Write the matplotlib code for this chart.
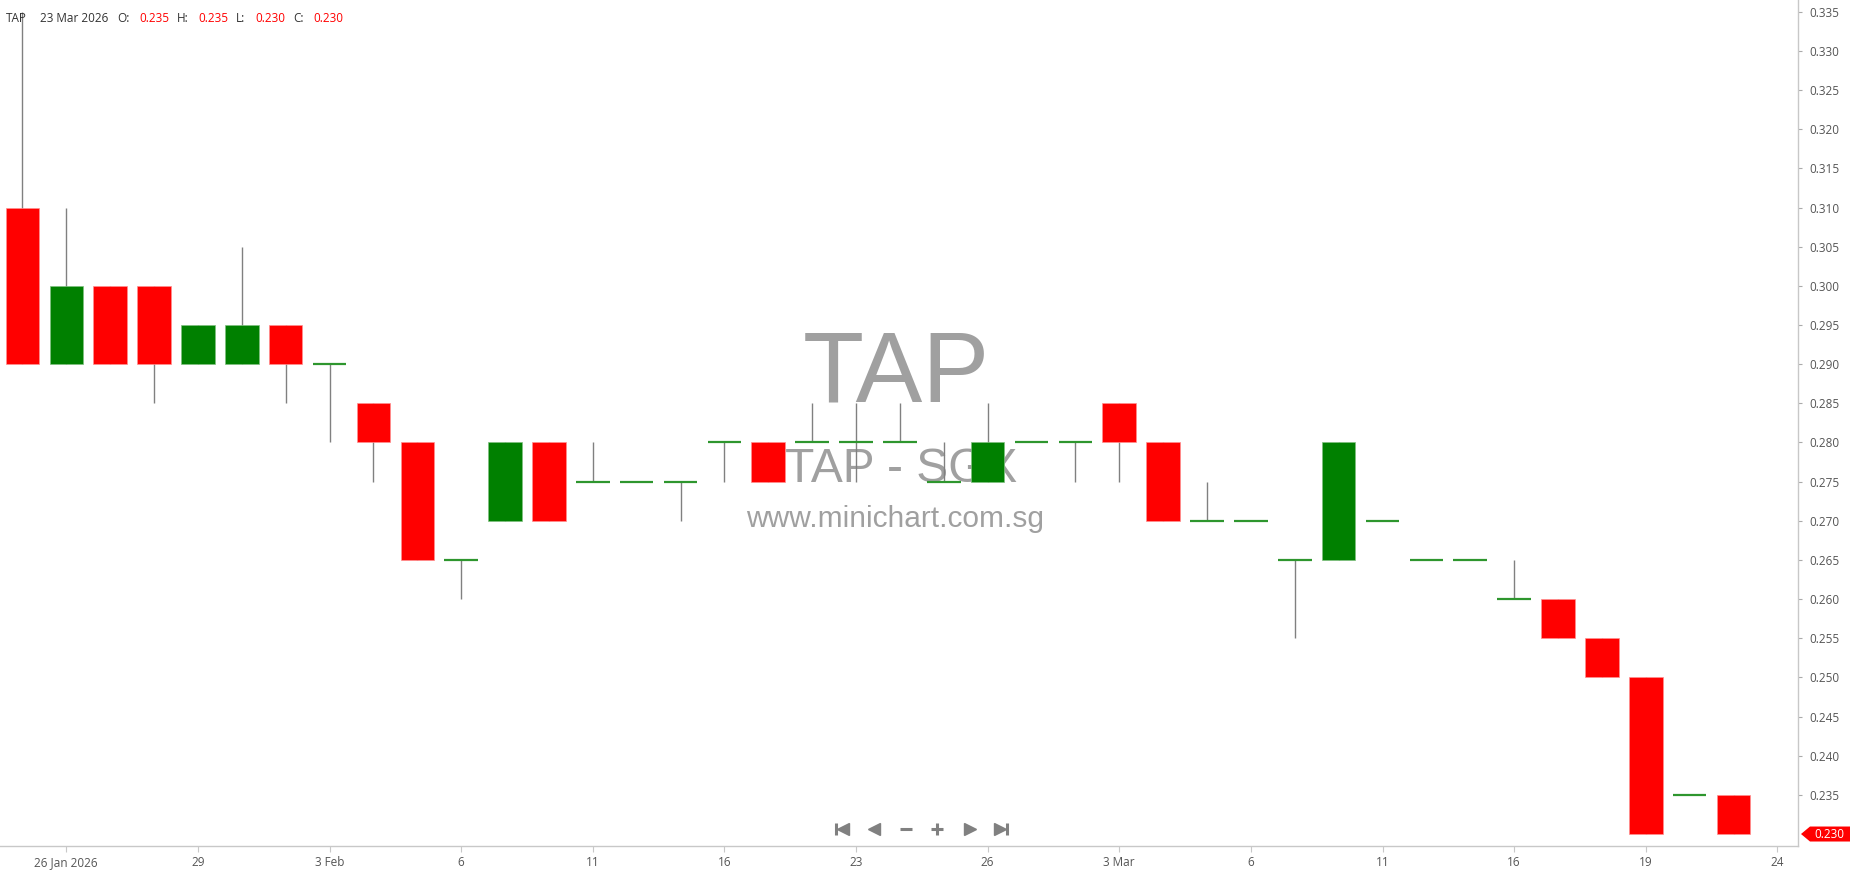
import matplotlib
matplotlib.use('Agg')
import matplotlib.pyplot as plt
import matplotlib.transforms as mtransforms
from matplotlib.patches import Polygon
from matplotlib.lines import Line2D

plt.rcParams['font.family'] = ['Open Sans', 'DejaVu Sans']

symbol = 'TAP'
exchange = 'SGX'
site = 'www.minichart.com.sg'

# one candle per trading day, 23 Jan 2026 -> 23 Mar 2026
dates = ['23 Jan 2026', '26 Jan 2026', '27 Jan 2026', '28 Jan 2026', '29 Jan 2026',
         '30 Jan 2026', '2 Feb 2026', '3 Feb 2026', '4 Feb 2026', '5 Feb 2026',
         '6 Feb 2026', '9 Feb 2026', '10 Feb 2026', '11 Feb 2026', '12 Feb 2026',
         '13 Feb 2026', '16 Feb 2026', '19 Feb 2026', '20 Feb 2026', '23 Feb 2026',
         '24 Feb 2026', '25 Feb 2026', '26 Feb 2026', '27 Feb 2026', '2 Mar 2026',
         '3 Mar 2026', '4 Mar 2026', '5 Mar 2026', '6 Mar 2026', '9 Mar 2026',
         '10 Mar 2026', '11 Mar 2026', '12 Mar 2026', '13 Mar 2026', '16 Mar 2026',
         '17 Mar 2026', '18 Mar 2026', '19 Mar 2026', '20 Mar 2026', '23 Mar 2026']
opens = [0.310, 0.290, 0.300, 0.300, 0.290, 0.290, 0.295, 0.290, 0.285, 0.280,
         0.265, 0.270, 0.280, 0.275, 0.275, 0.275, 0.280, 0.280, 0.280, 0.280,
         0.280, 0.275, 0.275, 0.280, 0.280, 0.285, 0.280, 0.270, 0.270, 0.265,
         0.265, 0.270, 0.265, 0.265, 0.260, 0.260, 0.255, 0.250, 0.235, 0.235]
highs = [0.335, 0.310, 0.300, 0.300, 0.295, 0.305, 0.295, 0.290, 0.285, 0.280,
         0.265, 0.280, 0.280, 0.280, 0.275, 0.275, 0.280, 0.280, 0.285, 0.285,
         0.285, 0.280, 0.285, 0.280, 0.280, 0.285, 0.280, 0.275, 0.270, 0.265,
         0.280, 0.270, 0.265, 0.265, 0.265, 0.260, 0.255, 0.250, 0.235, 0.235]
lows = [0.290, 0.290, 0.290, 0.285, 0.290, 0.290, 0.285, 0.280, 0.275, 0.265,
        0.260, 0.270, 0.270, 0.275, 0.275, 0.270, 0.275, 0.275, 0.280, 0.275,
        0.280, 0.275, 0.275, 0.280, 0.275, 0.275, 0.270, 0.270, 0.270, 0.255,
        0.265, 0.270, 0.265, 0.265, 0.260, 0.255, 0.250, 0.230, 0.235, 0.230]
closes = [0.290, 0.300, 0.290, 0.290, 0.295, 0.295, 0.290, 0.290, 0.280, 0.265,
          0.265, 0.280, 0.270, 0.275, 0.275, 0.275, 0.280, 0.275, 0.280, 0.280,
          0.280, 0.275, 0.280, 0.280, 0.280, 0.280, 0.270, 0.270, 0.270, 0.265,
          0.280, 0.270, 0.265, 0.265, 0.260, 0.255, 0.250, 0.230, 0.235, 0.230]

tick_pos = list(range(1, 41, 3))
tick_labels = ['26 Jan 2026', '29', '3 Feb', '6', '11', '16', '23', '26',
               '3 Mar', '6', '11', '16', '19', '24']
price_ticks = [round(0.235 + 0.005 * k, 3) for k in range(21)]

UP = '#008000'
DOWN = '#ff0000'
WICK = '#808080'
FLAT = '#2e962e'
GREY = '#a0a0a0'

W, H = 1850, 874
fig = plt.figure(figsize=(W / 100, H / 100), dpi=100)
ax = fig.add_axes([0, 28 / H, 1798 / W, 846 / H])

x = list(range(len(opens)))
width = 0.765

# wicks
ax.vlines(x, lows, highs, color=WICK, lw=1.0, zorder=2)

# bodies
body_x, body_h, body_b, body_c = [], [], [], []
flat_x, flat_y = [], []
for i, (o, c) in enumerate(zip(opens, closes)):
    if o == c:
        flat_x.append(i)
        flat_y.append(o)
    else:
        body_x.append(i)
        body_h.append(abs(c - o))
        body_b.append(min(o, c))
        body_c.append(UP if c > o else DOWN)
ax.bar(body_x, body_h, bottom=body_b, width=width, color=body_c, zorder=3,
       edgecolor=[('#80c080' if col == UP else '#ff9090') for col in body_c], linewidth=0.5)
ax.hlines(flat_y, [v - width / 2 for v in flat_x], [v + width / 2 for v in flat_x],
          color=FLAT, lw=1.6, zorder=4)

ax.set_xlim(-0.511, 40.47)
ax.set_ylim(0.22847, 0.3365)

# watermark
ax.text(0.4986, 1 - 401 / 846, symbol, transform=ax.transAxes, ha='center', va='baseline',
        fontsize=72, color=GREY, family=['Liberation Sans Narrow', 'Liberation Sans'], zorder=0)
ax.text(0.501, 1 - 482 / 846, f'{symbol} - {exchange}', transform=ax.transAxes, ha='center',
        va='baseline', fontsize=34.5, color=GREY, family=['Liberation Sans'], zorder=0)
ax.text(0.498, 1 - 527 / 846, site, transform=ax.transAxes, ha='center', va='baseline',
        fontsize=21.5, color=GREY, family=['Liberation Sans'], zorder=0)

# axes styling
for s in ['top', 'left']:
    ax.spines[s].set_visible(False)
for s in ['right', 'bottom']:
    ax.spines[s].set_color('#c8c8c8')
    ax.spines[s].set_linewidth(1.0)
ax.yaxis.tick_right()
ax.set_yticks(price_ticks)
ax.set_yticklabels([f'{v:.3f}' for v in price_ticks])
ax.tick_params(axis='y', length=3, color='#aaaaaa', labelcolor='#555555', labelsize=8.5, pad=5)
ax.set_xticks(tick_pos)
ax.set_xticklabels(tick_labels)
ax.tick_params(axis='x', length=4.5, color='#c8c8c8', labelcolor='#555555', labelsize=8.5, pad=3)

# header line with last bar values
pix = mtransforms.Affine2D().scale(1 / W, -1 / H).translate(0, 1) + fig.transFigure
last = len(closes) - 1
head = [(6, symbol, '#333333'), (40, dates[last], '#333333'),
        (117, 'O:', '#333333'), (139, f'{opens[last]:.3f}', DOWN),
        (177, 'H:', '#333333'), (198, f'{highs[last]:.3f}', DOWN),
        (236, 'L:', '#333333'), (255, f'{lows[last]:.3f}', DOWN),
        (293, 'C:', '#333333'), (313, f'{closes[last]:.3f}', DOWN)]
for px, txt, col in head:
    fig.text(px, 18, txt, transform=pix, ha='left', va='center', fontsize=8.5, color=col)

# navigation buttons
nav = '#808080'
def mark(px, py, m, ms, mew=1.0):
    fig.add_artist(Line2D([px], [py], transform=pix, marker=m, ms=ms, mew=mew,
                          color=nav, linestyle='none'))
mark(836, 829, '|', 8.5, 2.2)
mark(843, 829, '<', 8.5)
mark(874, 829, '<', 8.5)
mark(905.5, 829, '_', 9, 2.2)
mark(937, 829, '+', 9, 2.2)
mark(970, 829, '>', 8.5)
mark(1000, 829, '>', 8.5)
mark(1007, 829, '|', 8.5, 2.2)

# last price tag
yc = ax.transData.transform((0, closes[last]))[1]
tag = Polygon([(1801, yc), (1810, yc + 7.5), (1852, yc + 7.5), (1852, yc - 7.5), (1810, yc - 7.5)],
              closed=True, facecolor=DOWN, edgecolor='none', transform=mtransforms.IdentityTransform())
fig.add_artist(tag)
fig.text(1829 / W, yc / H, f'{closes[last]:.3f}', ha='center', va='center', fontsize=8.5,
         color='white')

fig.savefig('out.png', dpi=100)
